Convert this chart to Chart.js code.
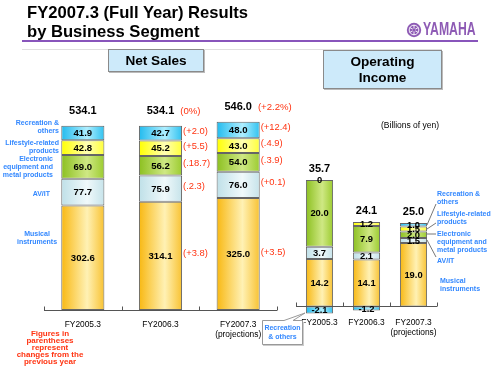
<!DOCTYPE html>
<html><head><meta charset="utf-8">
<script src="https://cdn.jsdelivr.net/npm/chart.js@4.4.1/dist/chart.umd.min.js"></script>
<style>
body{margin:0;background:#fff;width:500px;height:375px;overflow:hidden;font-family:"Liberation Sans",Arial,sans-serif;}
#wrap{position:relative;width:500px;height:375px;}
canvas{position:absolute;left:0;top:0;}
.t{position:absolute;white-space:nowrap;line-height:1;}
.title{font-weight:bold;font-size:16.6px;color:#000;left:27px;}
.box{position:absolute;background:#cdeafa;border:1px solid #8a8a8a;box-shadow:1px 1px 0 #bbb;box-sizing:border-box;text-align:center;font-weight:bold;color:#000;font-size:13.6px;}
.blue{position:absolute;white-space:nowrap;color:#3388ff;font-weight:bold;font-size:7px;line-height:8px;}
.red{position:absolute;white-space:nowrap;color:#ff3311;font-weight:bold;font-size:8px;line-height:7px;text-align:center;}
</style></head><body>
<div id="wrap">
<canvas id="c1" width="500" height="375"></canvas>
<canvas id="c2" width="500" height="375"></canvas>

<div class="t title" style="top:5px;">FY2007.3 (Full Year) Results</div>
<div class="t title" style="top:24px;">by Business Segment</div>
<div style="position:absolute;left:22px;top:40px;width:456px;height:2px;background:#8855bb;"></div>
<div style="position:absolute;left:22px;top:49px;width:420px;height:1px;background:#e0e0e0;"></div>
<svg style="position:absolute;left:406px;top:22px;" width="16" height="16" viewBox="0 0 16 16">
  <circle cx="8" cy="8" r="7.2" fill="#8e5bb5"/>
  <circle cx="8" cy="8" r="4.8" fill="none" stroke="#fff" stroke-width="0.9"/>
  <g stroke="#fff" stroke-width="0.9">
    <line x1="8" y1="3" x2="8" y2="13"/><line x1="3.7" y1="5.5" x2="12.3" y2="10.5"/><line x1="3.7" y1="10.5" x2="12.3" y2="5.5"/>
  </g>
  <circle cx="8" cy="8" r="1.6" fill="#8e5bb5"/>
</svg>
<div class="t" style="left:423px;top:20px;font-size:18px;font-weight:bold;color:#8e5bb5;transform:scaleX(0.68);transform-origin:left top;">YAMAHA</div>

<div class="box" style="left:108px;top:49px;width:96px;height:23px;line-height:21px;">Net Sales</div>
<div class="box" style="left:323px;top:50px;width:119px;height:39px;line-height:16px;padding-top:3px;">Operating<br>Income</div>

<div class="t" style="left:381px;top:121px;font-size:8.5px;color:#000;">(Billions of yen)</div>

<div class="blue" style="right:441px;top:119px;text-align:right;">Recreation &amp;<br>others</div>
<div class="blue" style="right:441px;top:139px;text-align:right;">Lifestyle-related<br>products</div>
<div class="blue" style="right:447px;top:155px;text-align:right;">Electronic<br>equipment and<br>metal products</div>
<div class="blue" style="right:450px;top:190px;text-align:right;">AV/IT</div>
<div class="blue" style="left:16px;width:42px;top:230px;text-align:center;">Musical<br>instruments</div>

<div class="blue" style="left:437px;top:190px;">Recreation &amp;<br>others</div>
<div class="blue" style="left:437px;top:210px;">Lifestyle-related<br>products</div>
<div class="blue" style="left:437px;top:230px;">Electronic<br>equipment and<br>metal products</div>
<div class="blue" style="left:437px;top:257px;">AV/IT</div>
<div class="blue" style="left:440px;top:277px;">Musical<br>instruments</div>

<svg style="position:absolute;left:0;top:0;" width="500" height="375">
  <g stroke="#777" stroke-width="1" fill="none">
    <line x1="427" y1="225" x2="436" y2="204"/>
    <line x1="427" y1="229" x2="436" y2="223"/>
    <line x1="427" y1="234" x2="436" y2="234"/>
    <line x1="427" y1="240" x2="436" y2="257"/>
  </g>
  <rect x="263" y="322" width="41" height="24" fill="#ccc"/>
  <path d="M262.5 320.5 H284 L305 313 L293 320.5 H302.5 V344.5 H262.5 Z" fill="#fff" stroke="#999" stroke-width="1"/>
</svg>
<div class="blue" style="left:262px;width:41px;top:323px;text-align:center;line-height:9px;">Recreation<br>&amp; others</div>

<div class="red" style="left:0px;width:100px;top:330px;">Figures in<br>parentheses<br>represent<br>changes from the<br>previous year</div>
</div>

<script>
// ---------- data ----------
const categories = ['FY2005.3', 'FY2006.3', ['FY2007.3', '(projections)']];
const segmentNames = ['Musical instruments', 'AV/IT', 'Electronic equipment and metal products', 'Lifestyle-related products', 'Recreation & others'];

// Net sales (billions of yen)
const salesMusical     = [302.6, 314.1, 325.0];
const salesAVIT        = [77.7, 75.9, 76.0];
const salesElectronic  = [69.0, 56.2, 54.0];
const salesLifestyle   = [42.8, 45.2, 43.0];
const salesRecreation  = [41.9, 42.7, 48.0];
const salesTotals      = ['534.1', '534.1', '546.0'];
const salesTotalChange = ['', '(0%)', '(+2.2%)'];

// Changes from previous year (shown in parentheses)
const chgMusical    = ['', '(+3.8)', '(+3.5)'];
const chgAVIT       = ['', '(.2.3)', '(+0.1)'];
const chgElectronic = ['', '(.18.7)', '(.3.9)'];
const chgLifestyle  = ['', '(+5.5)', '(.4.9)'];
const chgRecreation = ['', '(+2.0)', '(+12.4)'];

// Operating income (billions of yen)
const opMusical    = [14.2, 14.1, 19.0];
const opAVIT       = [3.7, 2.1, 1.5];
const opElectronic = [20.0, 7.9, 2.0];
const opLifestyle  = [0, 1.2, 1.5];
const opRecreation = [-2.1, -1.2, 1.0];
const opTotals     = ['35.7', '24.1', '25.0'];

// ---------- styling ----------
const FONT = '"Liberation Sans", Arial, sans-serif';
const palette = [
  ['#f8b812', '#fff1b4', '#f8c232'], // musical
  ['#bfe0e8', '#f0f9fb', '#c6e3ea'], // AV/IT
  ['#8cc020', '#cfe884', '#9ccc30'], // electronic
  ['#ffff00', '#ffffb4', '#ffff3a'], // lifestyle
  ['#22bbee', '#aeeeff', '#30c2f0']  // recreation
];

function gradFor(stops, barPct) {
  return function (ctx) {
    const chart = ctx.chart;
    const xs = chart.scales.x;
    if (!xs || !chart.chartArea) return stops[1];
    const c = xs.getPixelForValue(ctx.dataIndex);
    const w = xs.width / categories.length * barPct;
    const g = chart.ctx.createLinearGradient(c - w / 2, 0, c + w / 2, 0);
    g.addColorStop(0, stops[0]);
    g.addColorStop(0.6, stops[1]);
    g.addColorStop(1, stops[2]);
    return g;
  };
}

function makeDatasets(series, barPct) {
  return series.map((data, i) => ({
    label: segmentNames[i],
    data: data,
    backgroundColor: gradFor(palette[i], barPct),
    borderColor: '#666',
    borderWidth: 1,
    borderSkipped: false,
    barPercentage: barPct,
    categoryPercentage: 1
  }));
}

function drawAxis(chart) {
  const { ctx, chartArea } = chart;
  const ys = chart.scales.y;
  const y0 = Math.round(ys.getPixelForValue(0)) + 0.5;
  ctx.save();
  ctx.strokeStyle = '#555';
  ctx.lineWidth = 1;
  ctx.beginPath();
  ctx.moveTo(chartArea.left, y0);
  ctx.lineTo(chartArea.right, y0);
  const step = (chartArea.right - chartArea.left) / categories.length;
  for (let k = 0; k <= categories.length; k++) {
    const x = Math.round(chartArea.left + k * step) + 0.5;
    ctx.moveTo(x, y0);
    ctx.lineTo(x, y0 - 4);
  }
  ctx.stroke();
  ctx.restore();
}

const salesSeries = [salesMusical, salesAVIT, salesElectronic, salesLifestyle, salesRecreation];
const salesChanges = [chgMusical, chgAVIT, chgElectronic, chgLifestyle, chgRecreation];

const salesLabels = {
  id: 'salesLabels',
  afterDatasetsDraw(chart) {
    const ctx = chart.ctx;
    drawAxis(chart);
    ctx.save();
    ctx.textBaseline = 'middle';
    salesSeries.forEach((s, i) => {
      const meta = chart.getDatasetMeta(i);
      meta.data.forEach((el, j) => {
        const cy = (el.y + el.base) / 2;
        ctx.fillStyle = '#000';
        ctx.font = 'bold 9.6px ' + FONT;
        ctx.textAlign = 'center';
        ctx.fillText(s[j].toFixed(1), el.x, cy + 0.5);
        const chg = salesChanges[i][j];
        if (chg) {
          ctx.fillStyle = '#ff3311';
          ctx.font = '9.4px ' + FONT;
          ctx.textAlign = 'left';
          ctx.fillText(chg, el.x + el.width / 2 + 1, cy - 2);
        }
      });
    });
    const top = chart.getDatasetMeta(salesSeries.length - 1);
    top.data.forEach((el, j) => {
      const y = el.y - 14.5;
      ctx.font = 'bold 11px ' + FONT;
      ctx.fillStyle = '#000';
      ctx.textAlign = 'center';
      ctx.fillText(salesTotals[j], el.x, y);
      const w = ctx.measureText(salesTotals[j]).width;
      if (salesTotalChange[j]) {
        ctx.font = '9.6px ' + FONT;
        ctx.fillStyle = '#ff3311';
        ctx.textAlign = 'left';
        ctx.fillText(salesTotalChange[j], el.x + w / 2 + 6, y);
      }
    });
    ctx.restore();
  }
};

new Chart(document.getElementById('c1'), {
  type: 'bar',
  data: { labels: categories, datasets: makeDatasets(salesSeries, 0.555) },
  options: {
    responsive: false,
    animation: false,
    events: [],
    layout: { padding: { left: 44, right: 223, top: 103, bottom: 0 } },
    plugins: { legend: { display: false }, tooltip: { enabled: false } },
    scales: {
      x: {
        stacked: true,
        grid: { display: false, drawTicks: false },
        border: { display: false },
        ticks: { color: '#000', font: { family: FONT, size: 8.4, lineHeight: 1.2 }, padding: 9.3, maxRotation: 0, autoSkip: false },
        afterFit: s => { s.height = 65; }
      },
      y: { stacked: true, display: false, min: 0, max: 600 }
    }
  },
  plugins: [salesLabels]
});

const opSeries = [opMusical, opAVIT, opElectronic, opLifestyle, opRecreation];

const opLabels = {
  id: 'opLabels',
  afterDatasetsDraw(chart) {
    const ctx = chart.ctx;
    drawAxis(chart);
    ctx.save();
    ctx.textBaseline = 'middle';
    ctx.textAlign = 'center';
    ctx.fillStyle = '#000';
    ctx.font = 'bold 9.4px ' + FONT;
    opSeries.forEach((s, i) => {
      const meta = chart.getDatasetMeta(i);
      meta.data.forEach((el, j) => {
        const cy = (el.y + el.base) / 2;
        const v = s[j];
        ctx.fillText(v === 0 ? '0' : v.toFixed(1), el.x, cy + 0.5);
      });
    });
    ctx.font = 'bold 11px ' + FONT;
    const xs = chart.scales.x;
    for (let j = 0; j < categories.length; j++) {
      let topY = Infinity;
      opSeries.forEach((s, i) => {
        const el = chart.getDatasetMeta(i).data[j];
        topY = Math.min(topY, el.y, el.base);
      });
      ctx.fillText(opTotals[j], xs.getPixelForValue(j), topY - 11.5);
    }
    ctx.restore();
  }
};

new Chart(document.getElementById('c2'), {
  type: 'bar',
  data: { labels: categories, datasets: makeDatasets(opSeries, 0.578) },
  options: {
    responsive: false,
    animation: false,
    events: [],
    layout: { padding: { left: 296, right: 63, top: 173, bottom: 0 } },
    plugins: { legend: { display: false }, tooltip: { enabled: false } },
    scales: {
      x: {
        stacked: true,
        grid: { display: false, drawTicks: false },
        border: { display: false },
        ticks: { color: '#000', font: { family: FONT, size: 8.4, lineHeight: 1.2 }, padding: 1.5, maxRotation: 0, autoSkip: false },
        afterFit: s => { s.height = 58.5; }
      },
      y: { stacked: true, display: false, min: -3, max: 40 }
    }
  },
  plugins: [opLabels]
});
</script>
</body></html>
